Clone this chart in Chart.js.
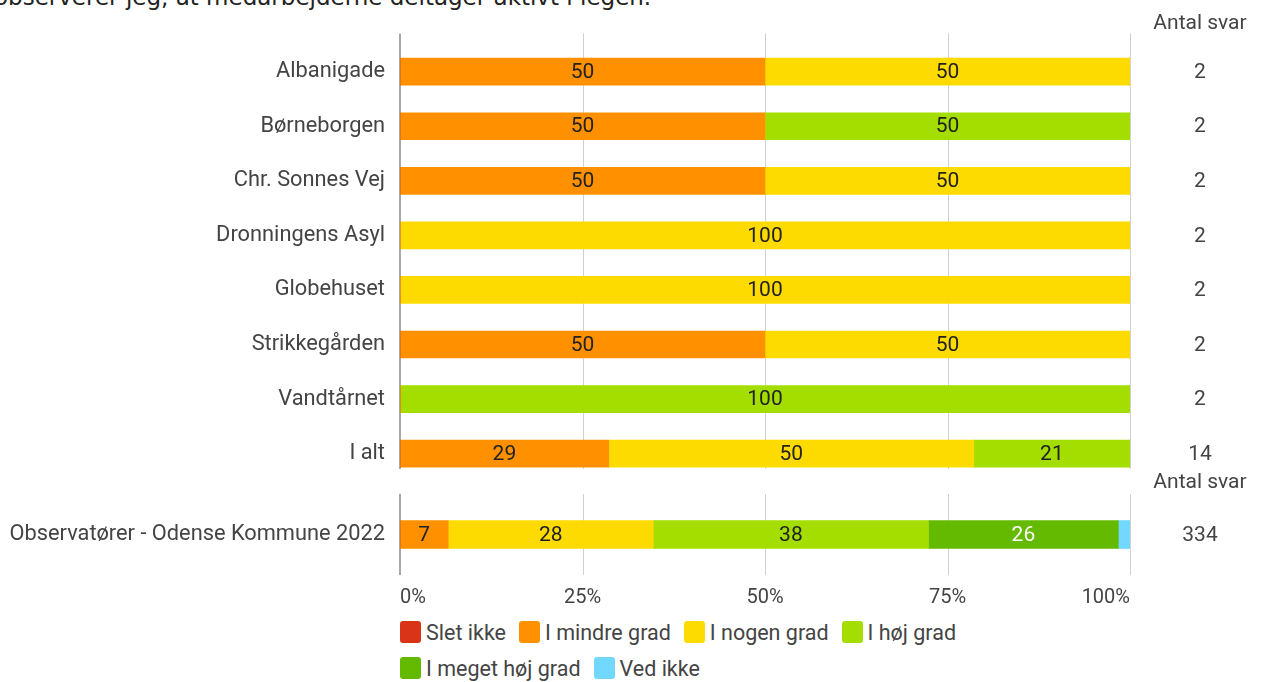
<!DOCTYPE html>
<html>
<head>
<meta charset="utf-8">
<script src="https://cdn.jsdelivr.net/npm/chart.js@4/dist/chart.umd.min.js"></script>
<style>
  html, body { margin: 0; padding: 0; background: #fff; overflow: hidden; }
  body { width: 1262px; height: 682px; position: relative; font-family: Roboto, sans-serif; }
  .title { position: absolute; left: -6px; top: -15px; font: 23px "DejaVu Sans", Verdana, sans-serif; color: #222; white-space: nowrap; line-height: 24px; }
  .box { position: absolute; left: 0; }
  #legend { position: absolute; left: 400px; top: 620px; width: 740px; display: flex; flex-wrap: wrap; row-gap: 12px; }
  .item { display: flex; align-items: center; height: 24px; margin-right: 13px; font-size: 21.5px; color: #444; }
  .swatch { width: 21px; height: 22px; border-radius: 3px; margin-right: 5px; }
</style>
</head>
<body>
<div class="title">observerer jeg, at medarbejderne deltager aktivt i legen.</div>
<div class="box" style="top:0px"><canvas id="topChart" width="1262" height="509"></canvas></div>
<div class="box" style="top:466px"><canvas id="bottomChart" width="1262" height="154"></canvas></div>
<div id="legend"></div>

<script>
// answer categories (legend)
const answers = ['Slet ikke', 'I mindre grad', 'I nogen grad', 'I høj grad', 'I meget høj grad', 'Ved ikke'];
const answerColors = ['#d93418', '#ff9100', '#fedb00', '#a3de00', '#63ba00', '#72d8ff'];
const labelColors = ['#222', '#222', '#222', '#222', '#fff', '#222'];

// top chart: per institution, percentage per answer
const places = ['Albanigade', 'Børneborgen', 'Chr. Sonnes Vej', 'Dronningens Asyl', 'Globehuset', 'Strikkegården', 'Vandtårnet', 'I alt'];
const sletIkke     = [0, 0, 0, 0, 0, 0, 0, 0];
const mindreGrad   = [50, 50, 50, 0, 0, 50, 0, 28.6];
const nogenGrad    = [50, 0, 50, 100, 100, 50, 0, 50];
const hojGrad      = [0, 50, 0, 0, 0, 0, 100, 21.4];
const megetHojGrad = [0, 0, 0, 0, 0, 0, 0, 0];
const vedIkke      = [0, 0, 0, 0, 0, 0, 0, 0];
const antalSvar    = [2, 2, 2, 2, 2, 2, 2, 14];

// bottom chart: municipality benchmark
const kommune = ['Observatører - Odense Kommune 2022'];
const kommuneValues = [0, 6.6, 28.1, 37.7, 26.0, 1.6]; // one value per answer
const kommuneSvar = [334];

const xTicks = [0, 25, 50, 75, 100];
const textColor = '#444';
const fontFamily = 'Roboto, sans-serif';

// value labels inside the bars
const barLabels = {
    id: 'barLabels',
    afterDatasetsDraw(chart) {
        const ctx = chart.ctx;
        ctx.save();
        ctx.font = '21px ' + fontFamily;
        ctx.textAlign = 'center';
        ctx.textBaseline = 'middle';
        chart.data.datasets.forEach((ds, di) => {
            const meta = chart.getDatasetMeta(di);
            meta.data.forEach((bar, i) => {
                const v = ds.data[i];
                if (!v || v < 3) return;
                const p = bar.getProps(['x', 'y', 'base'], true);
                ctx.fillStyle = labelColors[di];
                ctx.fillText(Math.round(v), (p.x + p.base) / 2, p.y + 1);
            });
        });
        ctx.restore();
    }
};

// grid lines drawn a bit past / short of the plot area, plus the "Antal svar" column
const sideStuff = {
    id: 'sideStuff',
    beforeDatasetsDraw(chart, args, opts) {
        const ctx = chart.ctx;
        const area = chart.chartArea;
        const x = chart.scales.x;
        ctx.save();
        xTicks.forEach((t, i) => {
            const px = Math.round(x.getPixelForValue(t)) + (i === 0 ? 0 : 0.5);
            ctx.beginPath();
            ctx.strokeStyle = i === 0 ? '#a8a8a8' : '#d0d0d0';
            ctx.lineWidth = i === 0 ? 2 : 1;
            ctx.moveTo(px, area.top + opts.gridTop);
            ctx.lineTo(px, area.bottom + opts.gridBottom);
            ctx.stroke();
        });
        ctx.restore();
    },
    afterDraw(chart, args, opts) {
        const ctx = chart.ctx;
        const y = chart.scales.y;
        ctx.save();
        ctx.font = '21px ' + fontFamily;
        ctx.fillStyle = textColor;
        ctx.textAlign = 'center';
        ctx.textBaseline = 'middle';
        ctx.fillText('Antal svar', 1200, chart.chartArea.top + opts.headerOffset);
        opts.counts.forEach((n, i) => {
            ctx.fillText(n, 1200, y.getPixelForValue(i) + 1);
        });
        ctx.restore();
    }
};

function makeOptions(showX, padding, thickness, pluginOpts) {
    return {
        indexAxis: 'y',
        responsive: false,
        animation: false,
        layout: { padding: padding },
        datasets: { bar: { barThickness: thickness } },
        scales: {
            x: {
                stacked: true,
                min: 0,
                max: 100,
                display: showX,
                grid: { display: false, drawTicks: false },
                border: { display: false },
                ticks: {
                    stepSize: 25,
                    align: 'inner',
                    padding: 11,
                    color: textColor,
                    font: { family: fontFamily, size: 20 },
                    callback: v => v + '%'
                },
                afterFit: s => { s.height = showX ? 40 : 0; }
            },
            y: {
                stacked: true,
                grid: { display: false, drawTicks: false },
                border: { display: false },
                ticks: {
                    padding: 15,
                    color: textColor,
                    font: { family: fontFamily, size: 21.8 }
                },
                afterFit: s => { s.width = 400; }
            }
        },
        plugins: {
            legend: { display: false },
            tooltip: { enabled: false },
            sideStuff: pluginOpts
        }
    };
}

const topSeries = [sletIkke, mindreGrad, nogenGrad, hojGrad, megetHojGrad, vedIkke];

new Chart(document.getElementById('topChart'), {
    type: 'bar',
    data: {
        labels: places,
        datasets: answers.map((a, i) => ({
            label: a,
            data: topSeries[i],
            backgroundColor: answerColors[i],
            borderWidth: 0
        }))
    },
    options: makeOptions(false, { top: 44.4, bottom: 2.7, left: 0, right: 132 }, 27,
        { gridTop: -11, gridBottom: -12, headerOffset: -21, counts: antalSvar }),
    plugins: [sideStuff, barLabels]
});

new Chart(document.getElementById('bottomChart'), {
    type: 'bar',
    data: {
        labels: kommune,
        datasets: answers.map((a, i) => ({
            label: a,
            data: [kommuneValues[i]],
            backgroundColor: answerColors[i],
            borderWidth: 0
        }))
    },
    options: makeOptions(true, { top: 19, bottom: 5, left: 0, right: 132 }, 28,
        { gridTop: 0, gridBottom: 0, headerOffset: -11, counts: kommuneSvar }),
    plugins: [sideStuff, barLabels]
});

// html legend built from the same arrays
const legend = document.getElementById('legend');
answers.forEach((a, i) => {
    const item = document.createElement('div');
    item.className = 'item';
    const sw = document.createElement('span');
    sw.className = 'swatch';
    sw.style.background = answerColors[i];
    const txt = document.createElement('span');
    txt.textContent = a;
    item.appendChild(sw);
    item.appendChild(txt);
    legend.appendChild(item);
});
</script>
</body>
</html>
